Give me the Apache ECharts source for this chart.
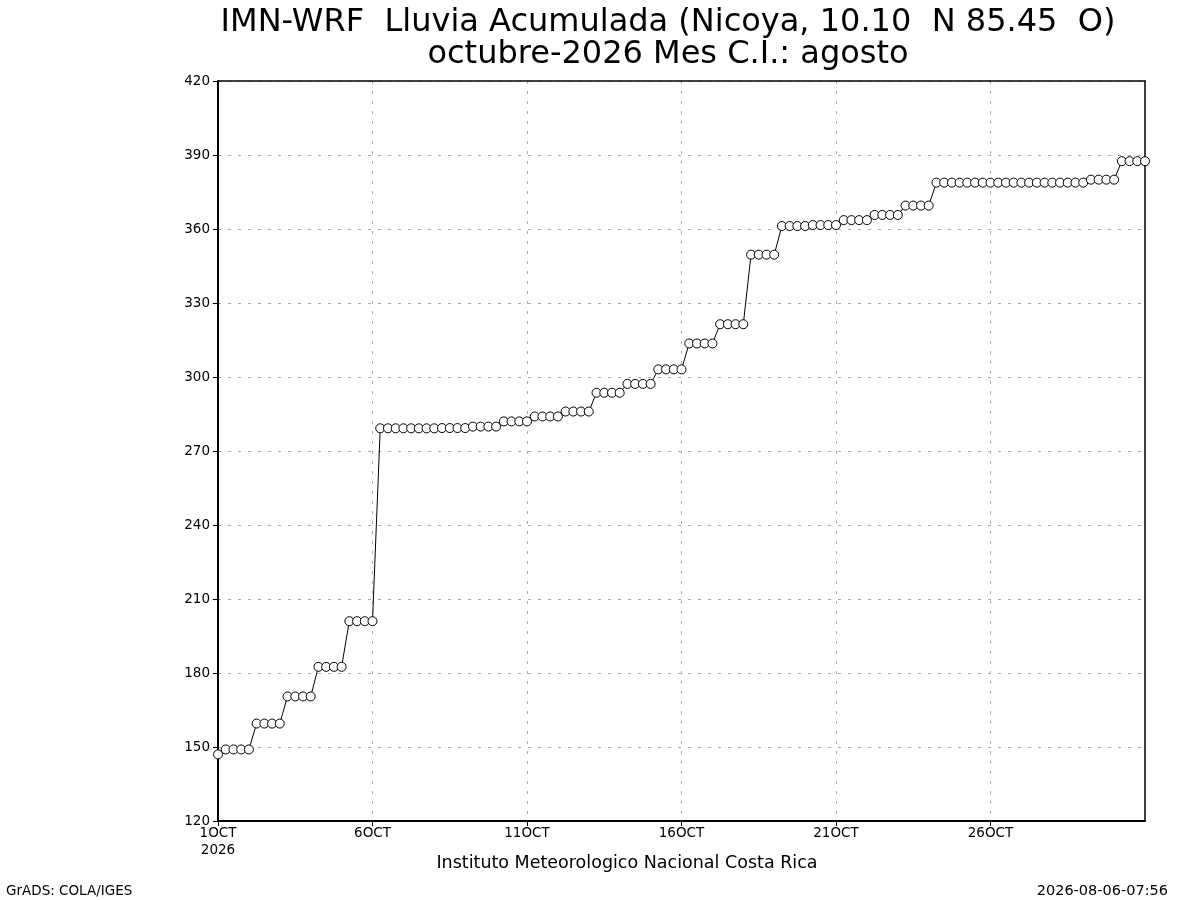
<!DOCTYPE html>
<html>
<head>
<meta charset="utf-8">
<script src="https://cdn.jsdelivr.net/npm/echarts@6/dist/echarts.min.js"></script>
<style>
  html, body { margin: 0; padding: 0; background: #fff; }
  .chart { width: 1200px; height: 900px; }
</style>
</head>
<body>
<div class="chart"></div>
<script>
// lluvia acumulada, un valor cada 6 horas (1 OCT 00Z a 31 OCT 00Z)
var lluvia = [
  147,
  149, 149, 149, 149,
  159.5, 159.5, 159.5, 159.5,
  170.5, 170.5, 170.5, 170.5,
  182.5, 182.5, 182.5, 182.5,
  201, 201, 201, 201,
  279.2, 279.2, 279.2, 279.2,
  279.2, 279.2, 279.2, 279.2,
  279.3, 279.3, 279.3, 279.3,
  279.9, 279.9, 279.9, 279.9,
  282, 282, 282, 282,
  284, 284, 284, 284,
  286, 286, 286, 286,
  293.6, 293.6, 293.6, 293.6,
  297.2, 297.2, 297.2, 297.2,
  303.1, 303.1, 303.1, 303.1,
  313.6, 313.6, 313.6, 313.6,
  321.4, 321.4, 321.4, 321.4,
  349.6, 349.6, 349.6, 349.6,
  361.2, 361.2, 361.2, 361.2,
  361.6, 361.6, 361.6, 361.6,
  363.6, 363.6, 363.6, 363.6,
  365.7, 365.7, 365.7, 365.7,
  369.5, 369.5, 369.5, 369.5,
  378.8, 378.8, 378.8, 378.8,
  378.8, 378.8, 378.8, 378.8,
  378.8, 378.8, 378.8, 378.8,
  378.8, 378.8, 378.8, 378.8,
  378.8, 378.8, 378.8, 378.8,
  380, 380, 380, 380,
  387.5, 387.5, 387.5, 387.5
];

// etiquetas del eje x, una cada 5 dias (20 pasos de 6 h)
var etiquetasX = ["1OCT\n2026", "6OCT", "11OCT", "16OCT", "21OCT", "26OCT", ""];
var ticksX = [0, 20, 40, 60, 80, 100];

var fuente = "DejaVu Sans";

var chart = echarts.init(document.querySelector(".chart"));

var datos = lluvia.map(function (v, i) { return [i, v]; });

var option = {
  backgroundColor: "#fff",
  animation: false,
  title: [
    {
      text: "IMN-WRF  Lluvia Acumulada (Nicoya, 10.10  N 85.45  O)\noctubre-2026 Mes C.I.: agosto",
      left: 663,
      top: 2,
      textAlign: "center",
      textStyle: { fontFamily: fuente, fontSize: 32, fontWeight: "normal", color: "#000", lineHeight: 32, align: "center" }
    },
    {
      text: "Instituto Meteorologico Nacional Costa Rica",
      left: 627,
      top: 854,
      padding: 0,
      textAlign: "center",
      textStyle: { fontFamily: fuente, fontSize: 17.5, fontWeight: "normal", color: "#000" }
    },
    {
      text: "GrADS: COLA/IGES",
      left: 6,
      top: 884,
      padding: 0,
      textStyle: { fontFamily: fuente, fontSize: 13.5, fontWeight: "normal", color: "#000" }
    },
    {
      text: "2026-08-06-07:56",
      right: 32,
      top: 884,
      padding: 0,
      textStyle: { fontFamily: fuente, fontSize: 14.5, fontWeight: "normal", color: "#000" }
    }
  ],
  grid: { left: 218, right: 55, top: 81, bottom: 79 },
  xAxis: [
    {
      type: "value",
      min: 0, max: 120, interval: 20,
      axisLine: { lineStyle: { color: "#000", width: 2 } },
      axisTick: { show: true, length: 5, customValues: ticksX, lineStyle: { color: "#000" } },
      axisLabel: {
        fontFamily: fuente, fontSize: 13.5, color: "#000", margin: 4, lineHeight: 17,
        formatter: function (v) { return etiquetasX[v / 20]; }
      },
      splitLine: { show: true, lineStyle: { color: "#aaa", type: [3, 7], width: 1 } }
    },
    {
      type: "value", position: "top",
      min: 0, max: 120,
      axisLine: { show: true, onZero: false, lineStyle: { color: "#000", width: 1.5 } },
      axisTick: { show: false }, axisLabel: { show: false }, splitLine: { show: false }
    }
  ],
  yAxis: [
    {
      type: "value",
      min: 120, max: 420, interval: 30,
      axisLine: { lineStyle: { color: "#000", width: 2 } },
      axisTick: { show: true, length: 5, lineStyle: { color: "#000" } },
      axisLabel: { fontFamily: fuente, fontSize: 13.5, color: "#000", margin: 8 },
      splitLine: { show: true, lineStyle: { color: "#aaa", type: [3, 7], width: 1 } }
    },
    {
      type: "value", position: "right",
      min: 120, max: 420,
      axisLine: { show: true, onZero: false, lineStyle: { color: "#000", width: 1.5 } },
      axisTick: { show: false }, axisLabel: { show: false }, splitLine: { show: false }
    }
  ],
  series: [
    {
      type: "line",
      data: datos,
      symbol: "circle",
      symbolSize: 9,
      showAllSymbol: true,
      clip: false,
      lineStyle: { color: "#000", width: 1 },
      itemStyle: { color: "#fff", borderColor: "#000", borderWidth: 1 }
    }
  ]
};

chart.setOption(option);
</script>
</body>
</html>
